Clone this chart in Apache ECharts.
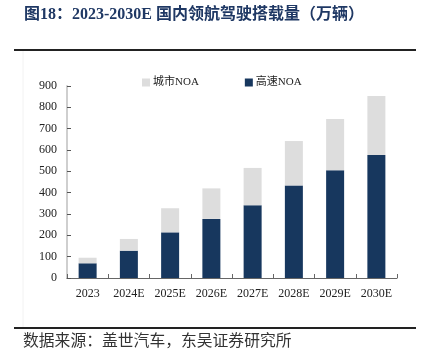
<!DOCTYPE html>
<html>
<head>
<meta charset="utf-8">
<script src="https://cdn.jsdelivr.net/npm/echarts@6/dist/echarts.min.js"></script>
<style>
html,body{margin:0;padding:0;background:#fff;}
#c{width:424px;height:360px;}
</style>
</head>
<body>
<div id="c"></div>
<script>
var categories = ['2023', '2024E', '2025E', '2026E', '2027E', '2028E', '2029E', '2030E'];
var highwayNOA = [69, 128, 214, 277, 341, 434, 505, 576];
var cityNOA = [26, 55, 113, 143, 175, 208, 240, 277];
var yTicks = [0, 100, 200, 300, 400, 500, 600, 700, 800, 900];
var titleText = '图18：2023-2030E 国内领航驾驶搭载量（万辆）';
var sourceText = '数据来源：盖世汽车，东吴证券研究所';

var SERIF = '"Liberation Serif", "DejaVu Serif", "Noto Sans CJK SC", serif';
var chart = echarts.init(document.getElementById('c'), null, {renderer: 'canvas'});
chart.setOption({
  animation: false,
  backgroundColor: '#ffffff',
  graphic: [
    {type: 'text', left: 24, top: 7, style: {text: titleText, font: 'bold 16px ' + SERIF, fill: '#1f3864'}},
    {type: 'line', shape: {x1: 14, y1: 50, x2: 416, y2: 50}, style: {stroke: '#222', lineWidth: 2}},
    {type: 'line', shape: {x1: 23, y1: 51, x2: 23, y2: 327}, style: {stroke: '#f2f2f2', lineWidth: 1}},
    {type: 'line', shape: {x1: 14, y1: 328, x2: 416, y2: 328}, style: {stroke: '#222', lineWidth: 2}},
    {type: 'text', left: 23, top: 334, style: {text: sourceText, font: '15.8px ' + SERIF, fill: '#333'}}
  ],
  legend: {
    left: 137, top: 72,
    itemWidth: 8, itemHeight: 8, itemGap: 46,
    icon: 'rect',
    data: ['城市NOA', '高速NOA'],
    textStyle: {fontSize: 11, fontFamily: SERIF, color: '#222', padding: [0, 0, 0, -2]}
  },
  grid: {left: 67, right: 27, top: 86, bottom: 82, containLabel: false},
  xAxis: {
    type: 'category',
    data: categories,
    axisLine: {lineStyle: {color: '#666', width: 1}},
    axisTick: {show: true, inside: true, length: 4, lineStyle: {color: '#666'}},
    axisLabel: {fontSize: 12, fontFamily: SERIF, color: '#222', margin: 10}
  },
  yAxis: {
    type: 'value',
    min: yTicks[0], max: yTicks[yTicks.length - 1], interval: 100,
    splitLine: {show: false},
    axisLine: {show: true, lineStyle: {color: '#cfcfcf', width: 2}},
    axisTick: {show: true, inside: true, length: 4, lineStyle: {color: '#555'}},
    axisLabel: {fontSize: 12, fontFamily: SERIF, color: '#222', margin: 10}
  },
  series: [
    {name: '高速NOA', type: 'bar', stack: 's', data: highwayNOA, barWidth: 18,
     itemStyle: {color: '#17375e'}},
    {name: '城市NOA', type: 'bar', stack: 's', data: cityNOA, barWidth: 18,
     itemStyle: {color: '#dddddd'}}
  ]
});
</script>
</body>
</html>
